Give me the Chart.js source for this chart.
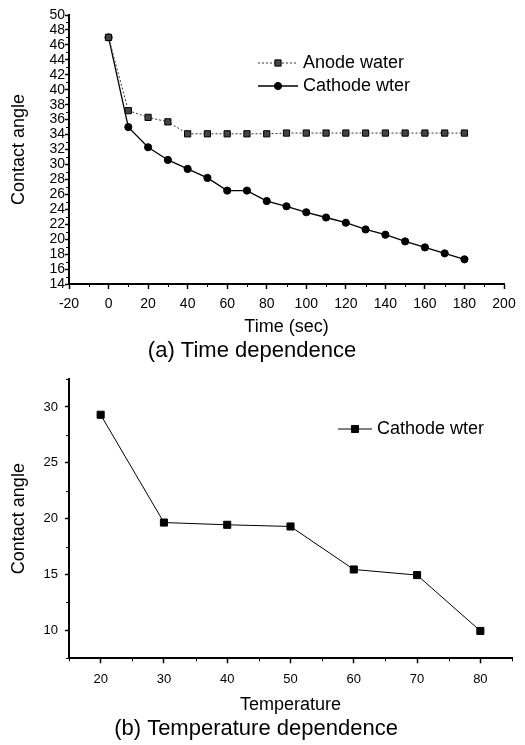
<!DOCTYPE html>
<html>
<head>
<meta charset="utf-8">
<script src="https://cdn.jsdelivr.net/npm/chart.js@4.4.1/dist/chart.umd.min.js"></script>
<style>
  body { margin: 0; background: #fff; }
  .box { position: absolute; left: 0; width: 525px; }
</style>
</head>
<body>
<div class="box" style="top:0;height:364px"><canvas id="chartTime"></canvas></div>
<div class="box" style="top:364px;height:381px"><canvas id="chartTemp"></canvas></div>
<script>
// (a) time dependence
const timeSec = [0, 10, 20, 30, 40, 50, 60, 70, 80, 90, 100, 110, 120, 130, 140, 150, 160, 170, 180];
const anodeWater = [47, 37.2, 36.3, 35.7, 34.1, 34.1, 34.1, 34.1, 34.1, 34.2, 34.2, 34.2, 34.2, 34.2, 34.2, 34.2, 34.2, 34.2, 34.2];
const cathodeWater = [47, 35.0, 32.3, 30.6, 29.4, 28.2, 26.5, 26.5, 25.1, 24.4, 23.6, 22.9, 22.2, 21.3, 20.6, 19.7, 18.9, 18.1, 17.3];
const timeTicks = [-20, 0, 20, 40, 60, 80, 100, 120, 140, 160, 180, 200];
const angleTicksA = [14, 16, 18, 20, 22, 24, 26, 28, 30, 32, 34, 36, 38, 40, 42, 44, 46, 48, 50];

// (b) temperature dependence
const temps = [20, 30, 40, 50, 60, 70, 80];
const cathodeByTemp = [29.3, 19.65, 19.45, 19.3, 15.45, 14.95, 9.95];
const tempTicks = [20, 30, 40, 50, 60, 70, 80];
const angleTicksB = [10, 15, 20, 25, 30];

const FONT = "'Liberation Sans', Arial, sans-serif";

function toPoints(xs, ys) {
  return xs.map((x, i) => ({ x: x, y: ys[i] }));
}

// small ticks between the labelled ones
function minorsOf(majors, min, max) {
  const half = (majors[1] - majors[0]) / 2;
  const out = [];
  for (let v = min; v <= max + 1e-9; v += half) {
    if (!majors.some(m => Math.abs(m - v) < 1e-9)) out.push(v);
  }
  return out;
}

const minorTicks = {
  id: 'minorTicks',
  afterDraw(chart, args, opts) {
    const { ctx, scales: { x, y } } = chart;
    ctx.save();
    ctx.strokeStyle = '#000';
    ctx.lineWidth = 1;
    ctx.beginPath();
    opts.x.forEach(v => {
      const px = Math.round(x.getPixelForValue(v)) + 0.5;
      ctx.moveTo(px, x.top);
      ctx.lineTo(px, x.top + 3);
    });
    opts.y.forEach(v => {
      const py = Math.round(y.getPixelForValue(v)) + 0.5;
      ctx.moveTo(y.right, py);
      ctx.lineTo(y.right - 3, py);
    });
    ctx.stroke();
    ctx.restore();
  }
};

// legend drawn inside the plot, like the original figure
const boxLegend = {
  id: 'boxLegend',
  afterDraw(chart, args, opts) {
    const ctx = chart.ctx;
    ctx.save();
    chart.data.datasets.forEach((ds, i) => {
      const row = opts.rows[i];
      ctx.beginPath();
      ctx.strokeStyle = ds.borderColor;
      ctx.lineWidth = ds.borderWidth;
      ctx.setLineDash(ds.borderDash || []);
      ctx.moveTo(row.x1, row.y);
      ctx.lineTo(row.x2, row.y);
      ctx.stroke();
      ctx.setLineDash([]);
      ctx.fillStyle = ds.pointBackgroundColor;
      ctx.strokeStyle = ds.pointBorderColor;
      ctx.lineWidth = 1;
      Chart.helpers.drawPoint(ctx, { pointStyle: ds.pointStyle, radius: ds.pointRadius, rotation: 0, borderWidth: 1 }, (row.x1 + row.x2) / 2, row.y);
      ctx.fillStyle = '#000';
      ctx.font = opts.font;
      ctx.textBaseline = 'middle';
      ctx.fillText(ds.label, row.textX, row.y);
    });
    ctx.restore();
  }
};

function axis(opts) {
  return {
    type: 'linear',
    min: opts.min,
    max: opts.max,
    afterBuildTicks: s => { s.ticks = opts.ticks.map(v => ({ value: v })); },
    afterFit: s => {
      if (opts.width) s.width = opts.width;
      if (opts.height) s.height = opts.height;
    },
    border: { display: true, color: '#000', width: 2 },
    grid: { display: true, drawOnChartArea: false, drawTicks: true, tickLength: opts.tickLength, tickColor: '#000', tickWidth: 1.5 },
    ticks: { color: '#000', padding: opts.padding, font: { family: FONT, size: opts.fontSize }, autoSkip: false, maxRotation: 0 },
    title: { display: true, text: opts.title, color: '#000', font: { family: FONT, size: 18, lineHeight: opts.titleLH }, padding: opts.titlePad }
  };
}

new Chart(document.getElementById('chartTime'), {
  type: 'line',
  data: {
    datasets: [
      {
        label: 'Anode water',
        data: toPoints(timeSec, anodeWater),
        borderColor: '#333',
        borderWidth: 1,
        borderDash: [2, 2],
        pointStyle: 'rect',
        pointRadius: 4.4,
        pointBackgroundColor: '#444',
        pointBorderColor: '#000',
        pointBorderWidth: 1
      },
      {
        label: 'Cathode wter',
        data: toPoints(timeSec, cathodeWater),
        borderColor: '#000',
        borderWidth: 1.3,
        pointStyle: 'circle',
        pointRadius: 3.6,
        pointBackgroundColor: '#000',
        pointBorderColor: '#000',
        pointBorderWidth: 1
      }
    ]
  },
  options: {
    responsive: true,
    maintainAspectRatio: false,
    animation: false,
    layout: { padding: { left: 0, top: 15, right: 21, bottom: 0 } },
    scales: {
      x: axis({ min: -20, max: 200, ticks: timeTicks, height: 51.6, tickLength: 5, padding: 7, fontSize: 14, title: 'Time (sec)', titleLH: 0.9, titlePad: { top: 0, bottom: 0 } }),
      y: axis({ min: 14, max: 50, ticks: angleTicksA, width: 69, tickLength: 4, padding: 0, fontSize: 14, title: 'Contact angle', titleLH: 1.2, titlePad: { top: 8, bottom: 0 } })
    },
    plugins: {
      legend: { display: false },
      tooltip: { enabled: false },
      title: { display: true, position: 'bottom', text: '(a) Time dependence', color: '#000', font: { family: FONT, size: 22, weight: 'normal', lineHeight: 1.2 }, padding: { top: 2, bottom: 0 } },
      minorTicks: { x: minorsOf(timeTicks, -20, 200), y: minorsOf(angleTicksA, 14, 50) },
      boxLegend: { font: '18px ' + FONT, rows: [{ y: 63, x1: 258, x2: 298, textX: 303 }, { y: 86, x1: 258, x2: 298, textX: 303 }] }
    }
  },
  plugins: [minorTicks, boxLegend]
});

new Chart(document.getElementById('chartTemp'), {
  type: 'line',
  data: {
    datasets: [
      {
        label: 'Cathode wter',
        data: toPoints(temps, cathodeByTemp),
        borderColor: '#000',
        borderWidth: 1,
        pointStyle: 'rect',
        pointRadius: 5,
        pointBackgroundColor: '#000',
        pointBorderColor: '#000',
        pointBorderWidth: 1
      }
    ]
  },
  options: {
    responsive: true,
    maintainAspectRatio: false,
    animation: false,
    layout: { padding: { left: 0, top: 15, right: 13, bottom: 0 } },
    scales: {
      x: axis({ min: 15, max: 85, ticks: tempTicks, height: 55.3, tickLength: 5, padding: 8, fontSize: 13, title: 'Temperature', titleLH: 0.93, titlePad: { top: 0, bottom: 0 } }),
      y: axis({ min: 7.5, max: 32.5, ticks: angleTicksB, width: 69, tickLength: 4, padding: 7, fontSize: 13, title: 'Contact angle', titleLH: 1.2, titlePad: { top: 8, bottom: 0 } })
    },
    plugins: {
      legend: { display: false },
      tooltip: { enabled: false },
      title: { display: true, position: 'bottom', text: '(b) Temperature dependence', color: '#000', font: { family: FONT, size: 22, weight: 'normal', lineHeight: 1.2 }, padding: { top: 2, bottom: 3 } },
      minorTicks: { x: minorsOf(tempTicks, 15, 85), y: minorsOf(angleTicksB, 7.5, 32.5) },
      boxLegend: { font: '18px ' + FONT, rows: [{ y: 65, x1: 338, x2: 372, textX: 377 }] }
    }
  },
  plugins: [minorTicks, boxLegend]
});
</script>
</body>
</html>
